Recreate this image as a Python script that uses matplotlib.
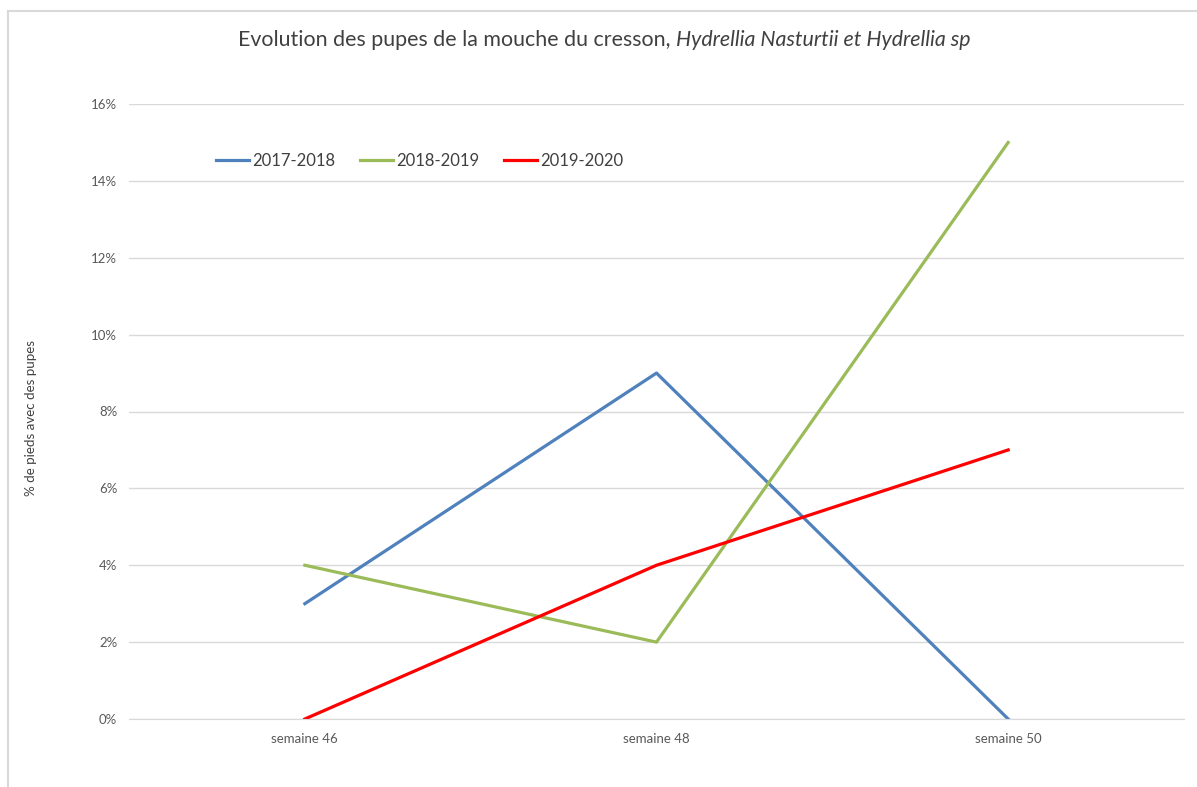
import matplotlib
matplotlib.use("Agg")
import matplotlib.pyplot as plt
from matplotlib.lines import Line2D
from matplotlib.ticker import PercentFormatter

plt.rcParams['font.family'] = ['Lato', 'DejaVu Sans']

semaines = ['semaine 46', 'semaine 48', 'semaine 50']
s2017 = [0.03, 0.09, 0.00]
s2018 = [0.04, 0.02, 0.15]
s2019 = [0.00, 0.04, 0.07]
yticks = [0, 0.02, 0.04, 0.06, 0.08, 0.10, 0.12, 0.14, 0.16]

W, H = 1197, 787
fig = plt.figure(figsize=(W / 100, H / 100), dpi=100)
ax = fig.add_axes([129 / W, 1 - 719 / H, (1184 - 129) / W, (719 - 104) / H])

x = range(len(semaines))
ax.plot(x, s2017, color='#4F81BD', lw=2.3, label='2017-2018')
ax.plot(x, s2018, color='#9BBB59', lw=2.3, label='2018-2019')
ax.plot(x, s2019, color='#FF0000', lw=2.3, label='2019-2020')

ax.set_xlim(-0.5, 2.5)
ax.set_ylim(0, 0.16)
ax.set_yticks(yticks)
ax.yaxis.set_major_formatter(PercentFormatter(1.0, decimals=0))
ax.set_xticks(list(x))
ax.set_xticklabels(semaines)
ax.grid(axis='y', color='#D9D9D9', lw=1)
ax.set_axisbelow(True)
for s in ['top', 'right', 'left']:
    ax.spines[s].set_visible(False)
ax.spines['bottom'].set_color('#D9D9D9')
ax.tick_params(axis='both', length=0, colors='#595959', labelsize=9.5)
ax.tick_params(axis='y', pad=8.5)
ax.tick_params(axis='x', pad=10)

ax.set_ylabel('% de pieds avec des pupes', fontsize=9.6, color='#404040')
ax.yaxis.set_label_coords(-92 / 1055, 0.49)

leg = ax.legend(loc='upper left', bbox_to_anchor=(80 / 1055, 1 - 42 / 615),
                ncol=3, frameon=False, fontsize=12, handlelength=2.0,
                columnspacing=1.45, handletextpad=0.2, borderaxespad=0)
for t in leg.get_texts():
    t.set_color('#404040')

fig.text(676 / W, 1 - 40 / H, 'Evolution des pupes de la mouche du cresson, ',
         ha='right', va='center', fontsize=15.4, color='#404040')
fig.text(676 / W, 1 - 40 / H, 'Hydrellia Nasturtii et Hydrellia sp',
         ha='left', va='center', fontsize=15.4, color='#404040', style='italic')

# chart area border (partly visible)
fig.add_artist(Line2D([8 / W, 1], [1 - 11 / H, 1 - 11 / H], color='#D9D9D9', lw=1.5))
fig.add_artist(Line2D([8 / W, 8 / W], [0, 1 - 11 / H], color='#D9D9D9', lw=1.5))

fig.savefig('out.png', dpi=100)
